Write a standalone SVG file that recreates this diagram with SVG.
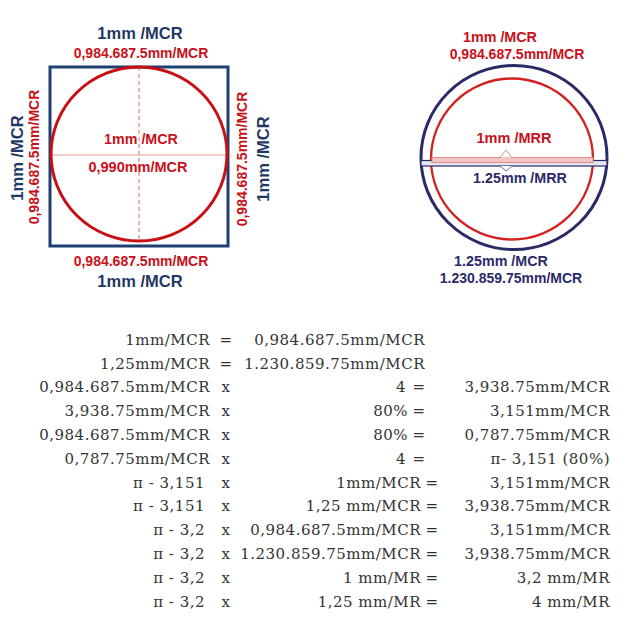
<svg xmlns="http://www.w3.org/2000/svg" width="628" height="617" viewBox="0 0 628 617">
<style>
.lb{font-family:"Liberation Sans",Arial,sans-serif;font-weight:bold;}
.blue{fill:#1f3864;}
.red{fill:#c8101a;}
.navy{fill:#2b2a69;}
.t{font-family:"DejaVu Serif","Liberation Serif",serif;font-size:15px;fill:#333333;letter-spacing:0.5px;}
.e{text-anchor:end;}
.m{text-anchor:middle;}
</style>
<rect width="628" height="617" fill="#ffffff"/>
<g id="square-diagram">
  <rect x="50" y="67" width="178" height="179" fill="none" stroke="#1f3f73" stroke-width="3"/>
  <line x1="139" y1="67" x2="139" y2="241" stroke="#d86a6a" stroke-width="1" stroke-dasharray="4,3"/>
  <line x1="51" y1="155" x2="227" y2="155" stroke="#e29a9a" stroke-width="1.2"/>
  <ellipse cx="139" cy="154" rx="88" ry="87" fill="none" stroke="#c80f14" stroke-width="3"/>
  <text class="lb blue m" x="140" y="39" font-size="16.5">1mm /MCR</text>
  <text class="lb red m" x="141" y="58" font-size="14">0,984.687.5mm/MCR</text>
  <text class="lb red m" x="141" y="144" font-size="14.3">1mm /MCR</text>
  <text class="lb red m" x="138" y="172" font-size="14.5">0,990mm/MCR</text>
  <text class="lb red m" x="141" y="266" font-size="14">0,984.687.5mm/MCR</text>
  <text class="lb blue m" x="140" y="287" font-size="16.5">1mm /MCR</text>
  <text class="lb blue m" transform="translate(23,158) rotate(-90)" font-size="16.5">1mm /MCR</text>
  <text class="lb red m" transform="translate(39,157) rotate(-90)" font-size="14">0,984.687.5mm/MCR</text>
  <text class="lb red m" transform="translate(247,159) rotate(-90)" font-size="14">0,984.687.5mm/MCR</text>
  <text class="lb blue m" transform="translate(269,159) rotate(-90)" font-size="16.5">1mm /MCR</text>
</g>
<g id="circle-diagram">
  <ellipse cx="514" cy="157.5" rx="93" ry="92" fill="none" stroke="#2b2a69" stroke-width="3"/>
  <ellipse cx="512" cy="159" rx="81" ry="80.5" fill="none" stroke="#d42020" stroke-width="2.3"/>
  <rect x="421" y="160.5" width="186" height="5.5" fill="#e4e6f0" stroke="#2b2a69" stroke-width="1.2"/>
  <rect x="432" y="157.5" width="161" height="5" fill="#f3c6c6" stroke="#e08a8a" stroke-width="1"/>
  <polyline points="500,157.5 506,150 512,157.5" fill="#ffffff" stroke="#e08a8a" stroke-width="1"/>
  <polyline points="500,166 506,171 512,166" fill="#ffffff" stroke="#6a6aa0" stroke-width="1"/>
  <text class="lb red m" x="500" y="42" font-size="14.3">1mm /MCR</text>
  <text class="lb red m" x="517" y="59" font-size="14">0,984.687.5mm/MCR</text>
  <text class="lb red m" x="514" y="143" font-size="14.5">1mm /MRR</text>
  <text class="lb navy m" x="520" y="183" font-size="14.3">1.25mm /MRR</text>
  <text class="lb navy m" x="501" y="266" font-size="14.3">1.25mm /MCR</text>
  <text class="lb navy m" x="511" y="283" font-size="14">1.230.859.75mm/MCR</text>
</g>
<g id="table">
  <text class="t e" x="210" y="345">1mm/MCR</text>
  <text class="t m" x="226" y="345">=</text>
  <text class="t e" x="425" y="345">0,984.687.5mm/MCR</text>

  <text class="t e" x="210" y="369">1,25mm/MCR</text>
  <text class="t m" x="226" y="369">=</text>
  <text class="t e" x="425" y="369">1.230.859.75mm/MCR</text>

  <text class="t e" x="210" y="392">0,984.687.5mm/MCR</text>
  <text class="t m" x="226" y="392">x</text>
  <text class="t e" x="406" y="392">4</text>
  <text class="t m" x="419" y="392">=</text>
  <text class="t e" x="610" y="392">3,938.75mm/MCR</text>

  <text class="t e" x="210" y="416">3,938.75mm/MCR</text>
  <text class="t m" x="226" y="416">x</text>
  <text class="t e" x="408" y="416">80%</text>
  <text class="t m" x="419" y="416">=</text>
  <text class="t e" x="610" y="416">3,151mm/MCR</text>

  <text class="t e" x="210" y="440">0,984.687.5mm/MCR</text>
  <text class="t m" x="226" y="440">x</text>
  <text class="t e" x="408" y="440">80%</text>
  <text class="t m" x="419" y="440">=</text>
  <text class="t e" x="610" y="440">0,787.75mm/MCR</text>

  <text class="t e" x="210" y="464">0,787.75mm/MCR</text>
  <text class="t m" x="226" y="464">x</text>
  <text class="t e" x="406" y="464">4</text>
  <text class="t m" x="419" y="464">=</text>
  <text class="t e" x="610" y="464">π- 3,151 (80%)</text>

  <text class="t e" x="205" y="488">π - 3,151</text>
  <text class="t m" x="226" y="488">x</text>
  <text class="t e" x="421" y="488">1mm/MCR</text>
  <text class="t m" x="432" y="488">=</text>
  <text class="t e" x="610" y="488">3,151mm/MCR</text>

  <text class="t e" x="205" y="511">π - 3,151</text>
  <text class="t m" x="226" y="511">x</text>
  <text class="t e" x="421" y="511">1,25 mm/MCR</text>
  <text class="t m" x="432" y="511">=</text>
  <text class="t e" x="610" y="511">3,938.75mm/MCR</text>

  <text class="t e" x="205" y="535">π - 3,2</text>
  <text class="t m" x="226" y="535">x</text>
  <text class="t e" x="421" y="535">0,984.687.5mm/MCR</text>
  <text class="t m" x="432" y="535">=</text>
  <text class="t e" x="610" y="535">3,151mm/MCR</text>

  <text class="t e" x="205" y="559">π - 3,2</text>
  <text class="t m" x="226" y="559">x</text>
  <text class="t e" x="421" y="559">1.230.859.75mm/MCR</text>
  <text class="t m" x="432" y="559">=</text>
  <text class="t e" x="610" y="559">3,938.75mm/MCR</text>

  <text class="t e" x="205" y="583">π - 3,2</text>
  <text class="t m" x="226" y="583">x</text>
  <text class="t e" x="421" y="583">1 mm/MR</text>
  <text class="t m" x="432" y="583">=</text>
  <text class="t e" x="610" y="583">3,2 mm/MR</text>

  <text class="t e" x="205" y="607">π - 3,2</text>
  <text class="t m" x="226" y="607">x</text>
  <text class="t e" x="421" y="607">1,25 mm/MR</text>
  <text class="t m" x="432" y="607">=</text>
  <text class="t e" x="610" y="607">4 mm/MR</text>
</g>
</svg>
